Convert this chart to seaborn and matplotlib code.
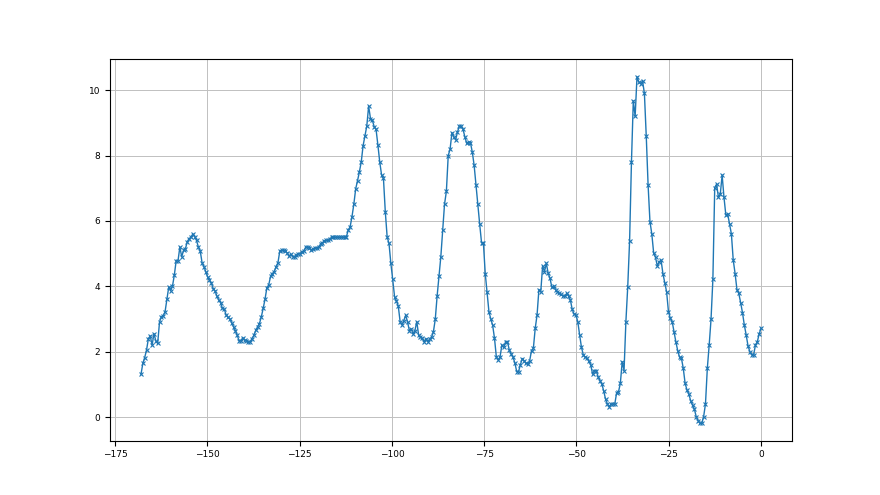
import numpy as np
import pandas as pd
import seaborn as sns
import matplotlib
matplotlib.use("Agg")
import matplotlib.pyplot as plt

# signal values, one sample every ~0.5 on the x axis
rise_1 = [1.31, 1.64, 1.82, 2.05, 2.4, 2.48, 2.2, 2.55, 2.33, 2.25, 2.9, 3.07, 3.1, 3.22,
          3.6, 3.98, 3.86, 4.0, 4.34, 4.78, 4.78, 5.2, 4.9, 5.1, 5.15, 5.36, 5.46, 5.5, 5.6]
fall_1 = [5.52, 5.4, 5.2, 5.08, 4.72, 4.6, 4.44, 4.29, 4.19, 4.1, 3.93, 3.86, 3.7, 3.58,
          3.5, 3.32, 3.3, 3.12, 3.05, 3.0, 2.88, 2.76, 2.64, 2.5, 2.33, 2.33, 2.43, 2.35,
          2.33, 2.3, 2.3, 2.4, 2.5, 2.65, 2.76, 2.86, 3.06, 3.32]
plateau = [3.6, 3.95, 4.04, 4.3, 4.39, 4.45, 4.6, 4.72, 5.08, 5.1, 5.1, 5.08, 5.02, 4.92,
           4.98, 4.9, 4.9, 4.96, 5.0, 5.0, 5.06, 5.08, 5.2, 5.2, 5.18, 5.1, 5.15, 5.17,
           5.17, 5.2, 5.29, 5.33, 5.39, 5.4, 5.4, 5.45, 5.5, 5.5, 5.5, 5.5, 5.5, 5.5, 5.5,
           5.5, 5.52]
peak_2 = [5.72, 5.82, 6.13, 6.51, 6.98, 7.23, 7.5, 7.8, 8.3, 8.6, 8.9, 9.51, 9.13, 9.08,
          8.88, 8.8, 8.32, 7.8, 7.4, 7.3, 6.28, 5.51, 5.31, 4.7, 4.21, 3.68, 3.55, 3.4,
          2.92, 2.82, 2.95, 3.11, 2.92, 2.64, 2.7, 2.54, 2.64, 2.92, 2.51, 2.44, 2.41,
          2.3, 2.4, 2.3, 2.4, 2.44]
peak_3 = [2.61, 2.99, 3.7, 4.31, 4.9, 5.72, 6.51, 6.9, 8.0, 8.19, 8.7, 8.57, 8.48, 8.72,
          8.9, 8.9, 8.8, 8.57, 8.37, 8.42, 8.39, 8.11, 7.7, 7.09, 6.51, 5.9, 5.33, 5.33,
          4.39, 3.82, 3.22, 3.0, 2.81, 2.41, 1.84, 1.75, 1.84]
bumps = [2.2, 2.13, 2.3, 2.3, 2.05, 1.93, 1.83, 1.66, 1.39, 1.39, 1.6, 1.79, 1.72, 1.64,
         1.62, 1.72, 2.03, 2.1, 2.71, 3.12, 3.9, 3.83, 4.62, 4.45, 4.7, 4.4, 4.24, 3.97,
         4.0, 3.9, 3.83, 3.78, 3.75, 3.7, 3.7, 3.78, 3.7, 3.58, 3.29, 3.15, 3.12, 2.92,
         2.51, 2.13, 1.9, 1.83, 1.8, 1.7, 1.6, 1.31, 1.42, 1.42, 1.23, 1.11, 1.01, 0.8,
         0.55, 0.4, 0.32, 0.4, 0.4, 0.4, 0.74, 0.77, 1.03]
peak_4 = [1.69, 1.42, 2.92, 3.99, 5.39, 7.79, 9.67, 9.2, 10.41, 10.25, 10.2, 10.28, 9.9,
          8.59, 7.09, 5.98, 5.6, 5.02, 4.88, 4.62, 4.75, 4.8, 4.39, 4.11, 3.83, 3.22,
          3.02, 2.92, 2.61, 2.3, 2.03, 1.83, 1.8, 1.49, 1.03, 0.83, 0.7, 0.5, 0.36, 0.24,
          0.01, -0.11, -0.19, -0.19, 0.01, 0.4]
peak_5 = [1.49, 2.2, 2.99, 4.21, 7.02, 7.12, 6.72, 6.82, 7.4, 6.72, 6.18, 6.21, 5.9, 5.6,
          4.8, 4.39, 3.9, 3.78, 3.5, 3.19, 2.81, 2.51, 2.17, 2.0, 1.9, 1.9, 2.2, 2.3,
          2.54, 2.71]

y = np.array(rise_1 + fall_1 + plateau + peak_2 + peak_3 + bumps + peak_4 + peak_5)
x_start, x_end = -168, 0
x = np.linspace(x_start, x_end, len(y))
df = pd.DataFrame({"t": x, "value": y})

plt.rcParams["font.size"] = 6.5
fig, ax = plt.subplots(figsize=(8.8, 4.95), dpi=100)
sns.lineplot(data=df, x="t", y="value", marker="x", markersize=3.5,
             markeredgewidth=0.8, markeredgecolor="#1f77b4",
             linewidth=1.0, color="#1f77b4", ax=ax)
ax.grid(True, color="#c0c0c0", linewidth=0.7)
ax.set_axisbelow(True)
ax.set_xlabel("")
ax.set_ylabel("")
ax.set_xticks([-175, -150, -125, -100, -75, -50, -25, 0])
fig.savefig("out.png", dpi=100)
